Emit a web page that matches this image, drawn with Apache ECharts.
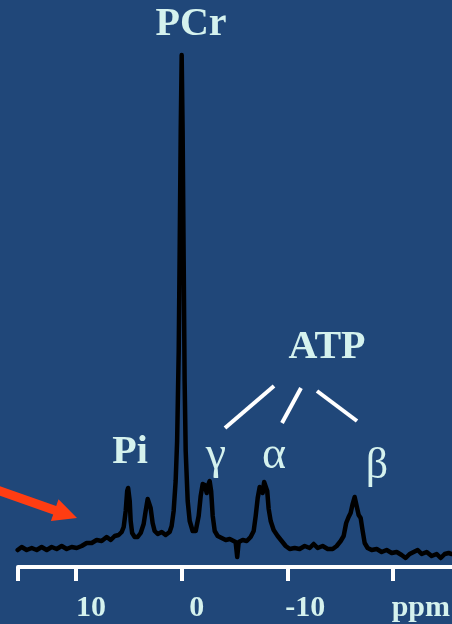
<!DOCTYPE html>
<html>
<head>
<meta charset="utf-8">
<script src="https://cdn.jsdelivr.net/npm/echarts@6/dist/echarts.min.js"></script>
<style>
html,body{margin:0;padding:0;background:#204779;}
#c{width:452px;height:624px;}
</style>
</head>
<body>
<div id="c"></div>
<script>
// chemical shift (ppm) and signal intensity (arbitrary units)
const ppm = [15.53,15.15,14.68,14.20,13.73,13.26,12.78,12.31,11.84,11.36,10.89,10.42,9.94,9.47,9.00,8.52,8.05,7.58,7.10,6.72,6.34,5.97,5.68,5.49,5.30,5.16,5.07,4.92,4.83,4.69,4.45,4.17,3.88,3.60,3.41,3.22,3.08,2.94,2.75,2.56,2.27,1.89,1.52,1.14,0.95,0.76,0.57,0.43,0.28,0.19,0.09,0.00,-0.09,-0.19,-0.28,-0.38,-0.57,-0.76,-1.04,-1.33,-1.61,-1.80,-1.99,-2.18,-2.37,-2.51,-2.65,-2.79,-2.94,-3.13,-3.41,-3.79,-4.17,-4.55,-4.92,-5.11,-5.26,-5.40,-5.78,-6.16,-6.53,-6.82,-7.01,-7.20,-7.39,-7.53,-7.67,-7.81,-7.95,-8.10,-8.24,-8.43,-8.71,-9.09,-9.47,-9.85,-10.23,-10.70,-11.17,-11.65,-12.12,-12.50,-12.88,-13.35,-13.83,-14.30,-14.68,-15.06,-15.34,-15.58,-15.81,-16.00,-16.19,-16.38,-16.57,-16.76,-16.95,-17.14,-17.33,-17.61,-17.99,-18.47,-18.94,-19.41,-19.89,-20.36,-20.83,-21.21,-21.59,-21.97,-22.35,-22.73,-23.20,-23.67,-24.15,-24.53,-24.91,-25.28,-25.57];
const intensity = [17,20,17,19,17,20,17,20,18,21,18,20,19,21,24,24,27,26,30,27,31,32,35,40,56,76,79,66,46,34,30,30,34,43,56,68,69,59,44,36,33,35,32,35,41,56,86,126,216,316,436,512,436,306,186,116,66,46,36,36,51,71,83,82,74,82,86,76,51,36,31,29,27,28,26,25,10,25,27,26,30,36,51,69,80,81,74,85,87,76,58,46,37,31,26,21,18,19,18,21,19,23,19,21,18,18,21,26,31,44,50,54,63,70,61,52,49,36,24,19,17,18,15,17,14,15,12,9,13,15,17,13,15,11,13,9,13,14,13];

const tickValues = [10, 0, -10, -20];
const tickLabels = ['10', '0', '-10', 'ppm'];
const axisEnd = 15.5;

const peakLabels = ['PCr', 'Pi', 'ATP', 'γ', 'α', 'β'];

const FG = '#d5f2ee';
const SERIF = "'Liberation Serif','Times New Roman',serif";

const chart = echarts.init(document.getElementById('c'), null, {renderer: 'canvas'});

const labelLayout = [
  {x: 191, y: 25, size: 40, weight: 'bold'},
  {x: 130, y: 453, size: 40, weight: 'bold'},
  {x: 327, y: 348, size: 40, weight: 'bold'},
  {x: 216, y: 456, size: 46, weight: 'normal'},
  {x: 274, y: 456, size: 46, weight: 'normal'},
  {x: 377, y: 466, size: 44, weight: 'normal'}
];

const graphics = peakLabels.map((t, i) => ({
  type: 'text',
  x: labelLayout[i].x, y: labelLayout[i].y,
  style: {
    text: t, fill: FG,
    font: labelLayout[i].weight + ' ' + labelLayout[i].size + 'px ' + SERIF,
    textAlign: 'center', textVerticalAlign: 'middle'
  }
}));

// ATP connector strokes
[[225,428,274,386],[282,423,301,388],[317,391,357,421]].forEach(s => {
  graphics.push({type: 'line', shape: {x1: s[0], y1: s[1], x2: s[2], y2: s[3]},
    style: {stroke: '#ffffff', lineWidth: 4}});
});

// red arrow
graphics.push({
  type: 'polygon',
  shape: {points: [[-3.5,485],[56.2,506],[58.5,499.3],[77,518],[50.9,521.1],[53.2,514.5],[-6.5,493.4]]},
  style: {fill: '#ff3d12'}
});

chart.setOption({
  backgroundColor: '#204779',
  animation: false,
  grid: {left: 18, right: 0, top: 0, bottom: 57, containLabel: false, outerBoundsMode: 'none'},
  xAxis: {
    type: 'value', inverse: true, min: -25.6, max: axisEnd,
    axisLine: {show: true, lineStyle: {color: '#ffffff', width: 4}},
    axisTick: {show: true, length: 14, lineStyle: {color: '#ffffff', width: 4},
      customValues: [axisEnd].concat(tickValues)},
    axisLabel: {
      customValues: tickValues,
      margin: 26,
      hideOverlap: false,
      formatter: v => {
        const i = tickValues.indexOf(v);
        const t = tickLabels[i];
        if (t === 'ppm') return '{p|' + t + '}';
        if (t.length === 3) return '{m|' + t + '}';
        return '{n|' + t + '}';
      },
      rich: {
        n: {color: FG, fontFamily: SERIF, fontWeight: 'bold', fontSize: 30, padding: [0,0,0,30]},
        m: {color: FG, fontFamily: SERIF, fontWeight: 'bold', fontSize: 30, padding: [0,0,0,36]},
        p: {color: FG, fontFamily: SERIF, fontWeight: 'bold', fontSize: 30, padding: [0,0,0,56]}
      }
    },
    splitLine: {show: false}
  },
  yAxis: {type: 'value', min: 0, max: 567, show: false},
  series: [{
    type: 'line',
    data: ppm.map((p, i) => [p, intensity[i]]),
    showSymbol: false,
    lineStyle: {color: '#000000', width: 4.5, join: 'round', cap: 'round'},
    clip: false
  }],
  graphic: graphics
});
</script>
</body>
</html>
